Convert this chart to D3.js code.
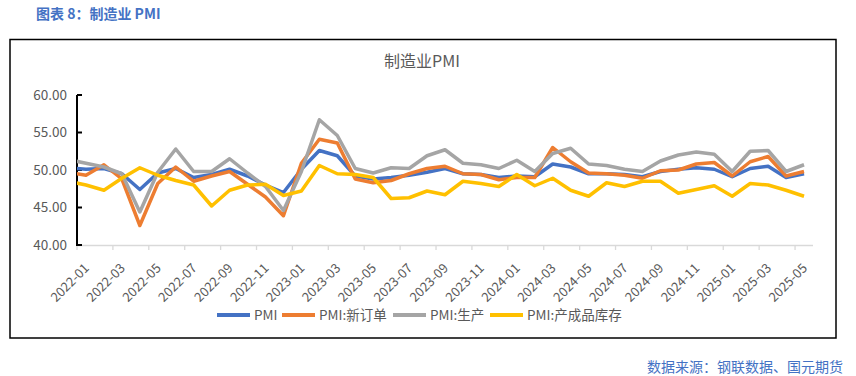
<!DOCTYPE html>
<html><head><meta charset="utf-8">
<script src="https://cdn.jsdelivr.net/npm/d3@7"></script>
<style>
html,body{margin:0;padding:0;background:#fff;}
svg{display:block;font-family:"Noto Sans CJK SC","Noto Sans",sans-serif;}
</style></head>
<body>
<svg id="c" width="856" height="376"></svg>
<script>
// Months (first entry precedes the visible range; its segment is clipped at the plot edge)
const months = ["2021-12",
 "2022-01","2022-02","2022-03","2022-04","2022-05","2022-06","2022-07","2022-08","2022-09","2022-10","2022-11","2022-12",
 "2023-01","2023-02","2023-03","2023-04","2023-05","2023-06","2023-07","2023-08","2023-09","2023-10","2023-11","2023-12",
 "2024-01","2024-02","2024-03","2024-04","2024-05","2024-06","2024-07","2024-08","2024-09","2024-10","2024-11","2024-12",
 "2025-01","2025-02","2025-03","2025-04","2025-05"];
const pmi = [50.3,
 50.1,50.2,49.5,47.4,49.6,50.2,49.0,49.4,50.1,49.2,48.0,47.0,
 50.1,52.6,51.9,49.2,48.8,49.0,49.3,49.7,50.2,49.5,49.4,49.0,
 49.2,49.1,50.8,50.4,49.5,49.5,49.4,49.1,49.8,50.1,50.3,50.1,
 49.1,50.2,50.5,49.0,49.5];
const newOrders = [49.7,
 49.3,50.7,48.8,42.6,48.2,50.4,48.5,49.2,49.8,48.1,46.4,43.9,
 50.9,54.1,53.6,48.8,48.3,48.6,49.5,50.2,50.5,49.5,49.4,48.7,
 49.0,49.0,53.0,51.1,49.6,49.5,49.3,48.9,49.9,50.0,50.8,51.0,
 49.2,51.1,51.8,49.2,49.8];
const production = [51.4,
 50.9,50.4,49.5,44.4,49.7,52.8,49.8,49.8,51.5,49.6,47.8,44.6,
 49.8,56.7,54.6,50.2,49.6,50.3,50.2,51.9,52.7,50.9,50.7,50.2,
 51.3,49.8,52.2,52.9,50.8,50.6,50.1,49.8,51.2,52.0,52.4,52.1,
 49.8,52.5,52.6,49.8,50.7];
const inventory = [48.5,
 48.0,47.3,48.9,50.3,49.3,48.6,48.0,45.2,47.3,48.0,48.1,46.6,
 47.2,50.6,49.5,49.4,49.0,46.2,46.3,47.2,46.7,48.5,48.2,47.8,
 49.4,47.9,48.9,47.3,46.5,48.3,47.8,48.5,48.5,46.9,47.4,47.9,
 46.5,48.2,48.0,47.3,46.5];
const seriesNames = ["PMI","PMI:新订单","PMI:生产","PMI:产成品库存"];
const seriesColors = ["#4472C4","#ED7D31","#A5A5A5","#FFC000"];
const yTicks = [40,45,50,55,60];

const svg = d3.select("#c");
const L = 77, R = 813, T = 95, B = 245;

// header
svg.append("text").attr("x",36).attr("y",19).attr("fill","#4472C4")
  .attr("font-size",14).attr("font-weight","bold").text("图表 8：制造业 PMI");
// frame
svg.append("rect").attr("x",10).attr("y",39.5).attr("width",826).attr("height",298.5)
  .attr("fill","none").attr("stroke","#000").attr("stroke-width",1.5);
// chart title
svg.append("text").attr("x",422).attr("y",67).attr("text-anchor","middle")
  .attr("fill","#595959").attr("font-size",16).text("制造业PMI");
// source
svg.append("text").attr("x",843).attr("y",372).attr("text-anchor","end")
  .attr("fill","#4472C4").attr("font-size",14).text("数据来源：钢联数据、国元期货");

const x = d3.scaleLinear().domain([0.5, months.length - 0.5]).range([L, R]);
const y = d3.scaleLinear().domain([40, 60]).range([B, T]);

// x axis
svg.append("line").attr("x1",L).attr("x2",R).attr("y1",B+0.5).attr("y2",B+0.5)
  .attr("stroke","#D9D9D9").attr("stroke-width",1.3);
const labelIdx = d3.range(1, months.length, 2);
svg.selectAll(".xt").data(labelIdx).join("line")
  .attr("x1",d=>x(d-0.5)).attr("x2",d=>x(d-0.5)).attr("y1",B).attr("y2",B+5)
  .attr("stroke","#D9D9D9").attr("stroke-width",1.3);
svg.selectAll(".xl").data(labelIdx).join("text")
  .attr("transform",d=>`translate(${x(d)+4},${269}) rotate(-45)`)
  .attr("text-anchor","end").attr("fill","#595959").attr("font-size",13)
  .text(d=>months[d]);

// y axis
svg.append("line").attr("x1",L).attr("x2",L).attr("y1",T).attr("y2",B+1)
  .attr("stroke","#000").attr("stroke-width",2);
svg.selectAll(".yt").data(yTicks).join("line")
  .attr("x1",L).attr("x2",L+5).attr("y1",d=>y(d)).attr("y2",d=>y(d))
  .attr("stroke","#000").attr("stroke-width",2);
svg.selectAll(".yl").data(yTicks).join("text")
  .attr("x",67).attr("y",d=>y(d)+4.5).attr("text-anchor","end")
  .attr("fill","#595959").attr("font-size",13.5).text(d=>d3.format(".2f")(d));

// clip
svg.append("clipPath").attr("id","pc").append("rect")
  .attr("x",L).attr("y",T-20).attr("width",R-L).attr("height",B-T+40);

const allSeries = [pmi,newOrders,production,inventory];
const line = d3.line().x((d,i)=>x(i)).y(d=>y(d));
const g = svg.append("g").attr("clip-path","url(#pc)");
allSeries.forEach((s,k)=>{
  g.append("path").datum(s).attr("d",line).attr("fill","none")
   .attr("stroke",seriesColors[k]).attr("stroke-width",3.5)
   .attr("stroke-linejoin","round").attr("stroke-linecap","butt");
});

// legend
const legX = [217, 282, 393, 490];
const lg = svg.append("g");
seriesNames.forEach((n,k)=>{
  lg.append("line").attr("x1",legX[k]).attr("x2",legX[k]+33).attr("y1",315).attr("y2",315)
    .attr("stroke",seriesColors[k]).attr("stroke-width",4);
  lg.append("text").attr("x",legX[k]+37).attr("y",320).attr("fill","#595959")
    .attr("font-size",13.5).text(n);
});
</script>
</body></html>
